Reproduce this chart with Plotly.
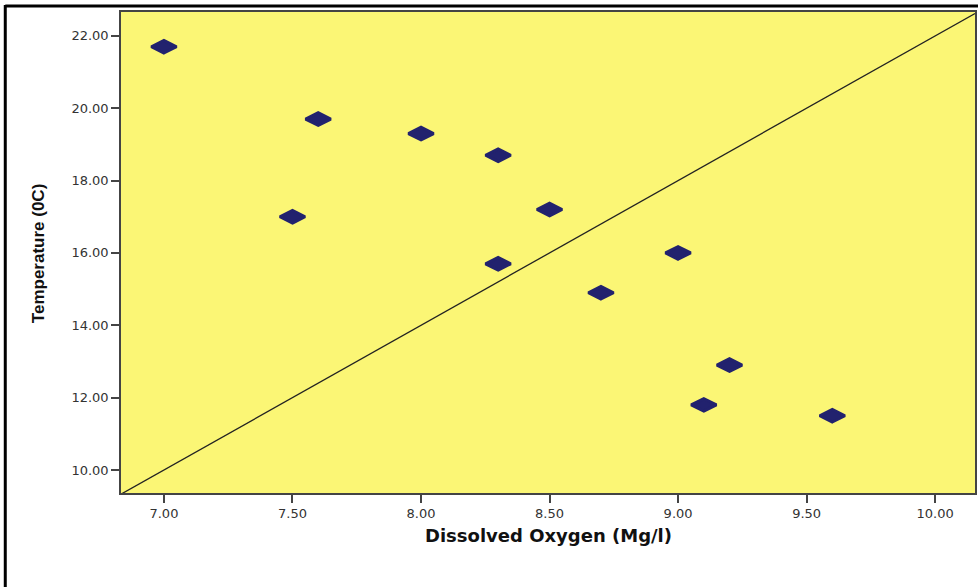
import plotly.graph_objects as go

# Data
dissolved_oxygen = [7.0, 7.6, 7.5, 8.0, 8.3, 8.5, 8.3, 8.7, 9.0, 9.2, 9.1, 9.6]
temperature = [21.7, 19.7, 17.0, 19.3, 18.7, 17.2, 15.7, 14.9, 16.0, 12.9, 11.8, 11.5]

x_ticks = [7.0, 7.5, 8.0, 8.5, 9.0, 9.5, 10.0]
y_ticks = [10, 12, 14, 16, 18, 20, 22]

x_range = [6.833, 10.155]
y_range = [9.364, 22.66]

# reference line y = slope * x + intercept
ref_slope = 4.0
ref_intercept = -18.0
ref_x = x_range
ref_y = [ref_slope * v + ref_intercept for v in ref_x]

fig = go.Figure()
fig.add_trace(go.Scatter(
    x=ref_x, y=ref_y, mode="lines",
    line=dict(color="#222222", width=1.3),
    hoverinfo="skip", showlegend=False,
))
fig.add_trace(go.Scatter(
    x=dissolved_oxygen, y=temperature, mode="markers",
    marker=dict(symbol="diamond-wide", size=18, color="#22226e",
                line=dict(width=3, color="#22226e")),
    showlegend=False,
))

axis_common = dict(
    showgrid=False, zeroline=False, showline=True, mirror=True,
    linecolor="#444444", linewidth=1.5,
    ticks="outside", ticklen=8, tickwidth=1.5, tickcolor="#444444",
    tickfont=dict(family="DejaVu Sans, Verdana, sans-serif", size=13, color="#333333"),
    tickformat=".2f",
)

fig.update_xaxes(range=x_range, tickvals=x_ticks, **axis_common)
fig.update_yaxes(range=y_range, tickvals=y_ticks, **axis_common)

fig.update_layout(
    width=978, height=587,
    margin=dict(l=121, r=1, t=12, b=94),
    plot_bgcolor="#FBF675",
    paper_bgcolor="white",
    shapes=[
        dict(type="line", xref="paper", yref="paper",
             x0=(5 - 121) / 856, x1=(980 - 121) / 856,
             y0=(493 - 6) / 481, y1=(493 - 6) / 481,
             line=dict(color="black", width=3)),
        dict(type="line", xref="paper", yref="paper",
             x0=(5 - 121) / 856, x1=(5 - 121) / 856,
             y0=(493 - 5) / 481, y1=(493 - 600) / 481,
             line=dict(color="black", width=3)),
    ],
    annotations=[
        dict(text="<b>Dissolved Oxygen (Mg/l)</b>", xref="paper", yref="paper",
             x=(550 - 121) / 856, y=(493 - 535) / 481,
             xanchor="center", yanchor="middle", showarrow=False,
             font=dict(family="DejaVu Sans, Verdana, sans-serif", size=18, color="#111111")),
        dict(text="<b>Temperature (0C)</b>", xref="paper", yref="paper",
             x=(38 - 121) / 856, y=(493 - 253) / 481, textangle=-90,
             xanchor="center", yanchor="middle", showarrow=False,
             font=dict(family="Liberation Sans Narrow, Arial Narrow, Liberation Sans, sans-serif", size=17, color="#111111")),
    ],
)

fig.write_html("out.html")
